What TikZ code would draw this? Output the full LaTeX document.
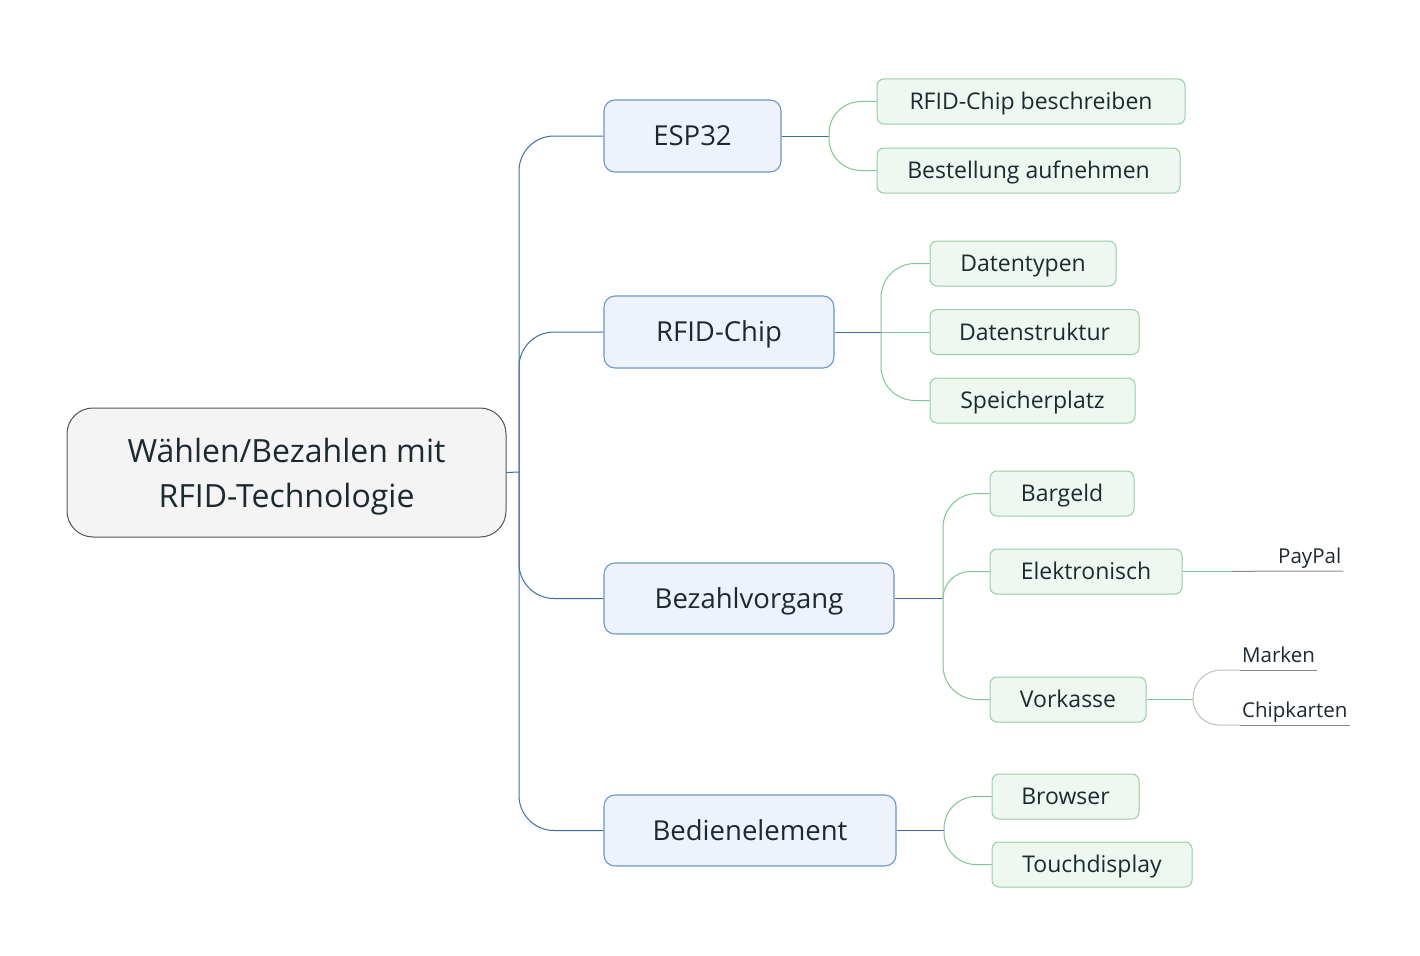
\documentclass[tikz,border=0pt]{standalone}
\usepackage{fontspec}
\setmainfont{Open Sans}
\begin{document}
\begin{tikzpicture}[x=1pt,y=-1pt,
  rootbox/.style={draw=rootdraw,fill=rootfill,rounded corners=26pt,line width=1pt,text=txt,align=center,inner sep=0pt,text depth=-4pt,font=\fontsize{32}{45}\selectfont},
  lone/.style={draw=lonedraw,fill=lonefill,rounded corners=11pt,line width=1.1pt,text=txt,inner sep=0pt,text height=19.5pt,text depth=-2pt,font=\fontsize{27.5}{30}\selectfont},
  ltwo/.style={draw=ltwodraw,fill=ltwofill,rounded corners=7pt,line width=1pt,text=txt,inner sep=0pt,text height=16.2pt,text depth=-2pt,font=\fontsize{23}{25}\selectfont},
  lthree/.style={text=txt,inner sep=0pt,inner xsep=2pt,inner ysep=7pt,text depth=0pt,anchor=south west,font=\fontsize{20.5}{22}\selectfont},
  blueline/.style={draw=blueln,line width=1pt},
  greenline/.style={draw=greenln,line width=1pt},
  grayline/.style={draw=grayln,line width=1pt},
  lightgray/.style={draw=lgrayln,line width=1pt}
]
\definecolor{rootdraw}{HTML}{555555}
\definecolor{rootfill}{HTML}{F4F4F4}
\definecolor{lonedraw}{HTML}{6A96CC}
\definecolor{lonefill}{HTML}{EEF3FB}
\definecolor{ltwodraw}{HTML}{95D0A4}
\definecolor{ltwofill}{HTML}{EEF7F0}
\definecolor{blueln}{HTML}{3C6FA8}
\definecolor{greenln}{HTML}{7FC692}
\definecolor{grayln}{HTML}{8A8A8A}
\definecolor{lgrayln}{HTML}{C0C0C0}
\definecolor{txt}{HTML}{1C2A30}
\useasboundingbox[fill=white] (0,0) rectangle (1420,955);

% root
\node[rootbox,minimum width=439pt,minimum height=129pt] (root) at (286.5,472.5) {W\"ahlen/Bezahlen mit\\RFID-Technologie};

% level 1
\node[lone,minimum width=177pt,minimum height=72pt] (esp) at (692.5,136) {ESP32};
\node[lone,minimum width=230pt,minimum height=72pt] (rfid) at (719,332) {RFID-Chip};
\node[lone,minimum width=290pt,minimum height=71pt] (bez) at (749,598.5) {Bezahlvorgang};
\node[lone,minimum width=292pt,minimum height=71pt] (bed) at (750,830.5) {Bedienelement};

% level 2
\node[ltwo,minimum width=308pt,minimum height=45pt] (rcb) at (1031,101.5) {RFID-Chip beschreiben};
\node[ltwo,minimum width=303pt,minimum height=45pt] (bau) at (1028.5,170.5) {Bestellung aufnehmen};
\node[ltwo,minimum width=186pt,minimum height=45pt] (dty) at (1023,263.5) {Datentypen};
\node[ltwo,minimum width=209pt,minimum height=45pt] (dst) at (1034.5,332) {Datenstruktur};
\node[ltwo,minimum width=205pt,minimum height=45pt] (spp) at (1032.5,400.5) {Speicherplatz};
\node[ltwo,minimum width=144pt,minimum height=45pt] (bar) at (1062,493.5) {Bargeld};
\node[ltwo,minimum width=192pt,minimum height=45pt] (ele) at (1086,571.5) {Elektronisch};
\node[ltwo,minimum width=156pt,minimum height=45pt] (vor) at (1068,699.5) {Vorkasse};
\node[ltwo,minimum width=147pt,minimum height=45pt] (bro) at (1065.5,796.5) {Browser};
\node[ltwo,minimum width=200pt,minimum height=45pt] (tou) at (1092,864.5) {Touchdisplay};

% level 3
\node[lthree] (pay) at (1276,571) {PayPal};
\node[lthree] (mar) at (1240,670) {Marken};
\node[lthree] (chi) at (1240,725) {Chipkarten\hspace{2pt}};

% junctions
\coordinate (j0) at (519,472);
\coordinate (j1) at (829,136);
\coordinate (j2) at (881,332);
\coordinate (j3) at (943,598.5);
\coordinate (j4) at (944,830.5);
\coordinate (jp) at (1232,571.5);
\coordinate (jv) at (1193,699.5);

% root connectors
\draw[blueline] (root.east) -- (j0);
\draw[blueline,rounded corners=35pt] (j0) |- (esp.west);
\draw[blueline,rounded corners=35pt] (j0) |- (rfid.west);
\draw[blueline,rounded corners=35pt] (j0) |- (bez.west);
\draw[blueline,rounded corners=35pt] (j0) |- (bed.west);

% ESP32
\draw[blueline] (esp.east) -- (j1);
\draw[greenline,rounded corners=32pt] (j1) |- (rcb.west);
\draw[greenline,rounded corners=32pt] (j1) |- (bau.west);

% RFID-Chip
\draw[blueline] (rfid.east) -- (j2);
\draw[greenline,rounded corners=34pt] (j2) |- (dty.west);
\draw[greenline] (j2) -- (dst.west);
\draw[greenline,rounded corners=34pt] (j2) |- (spp.west);

% Bezahlvorgang
\draw[blueline] (bez.east) -- (j3);
\draw[greenline,rounded corners=34pt] (j3) |- (bar.west);
\draw[greenline,rounded corners=27pt] (j3) |- (ele.west);
\draw[greenline,rounded corners=34pt] (j3) |- (vor.west);

% Bedienelement
\draw[blueline] (bed.east) -- (j4);
\draw[greenline,rounded corners=32pt] (j4) |- (bro.west);
\draw[greenline,rounded corners=32pt] (j4) |- (tou.west);

% level 3 connectors
\draw[greenline] (ele.east) -- (jp);
\draw[grayline] (jp) -- (pay.south west) -- (pay.south east);
\draw[greenline] (vor.east) -- (jv);
\draw[lightgray,rounded corners=28pt] (jv) |- (mar.south west);
\draw[lightgray,rounded corners=26pt] (jv) |- (chi.south west);
\draw[grayline] (mar.south west) -- (mar.south east);
\draw[grayline] (chi.south west) -- (chi.south east);
\end{tikzpicture}
\end{document}
